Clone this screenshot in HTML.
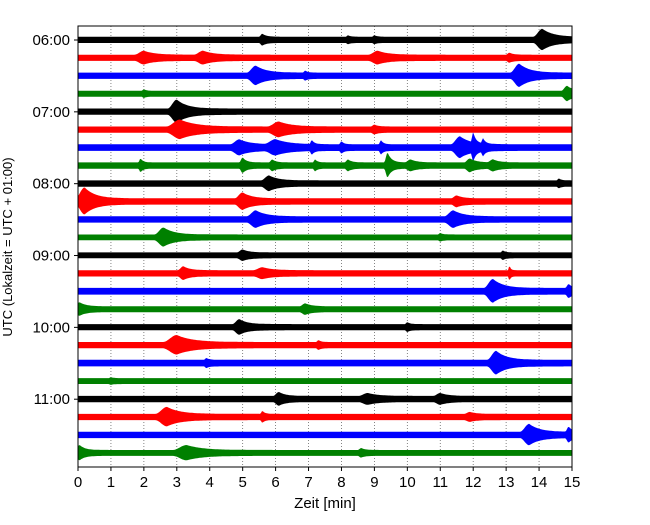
<!DOCTYPE html>
<html><head><meta charset="utf-8"><style>
body{margin:0;background:#fff;font-family:"Liberation Sans","DejaVu Sans",sans-serif}
</style></head><body>
<svg id="c" width="650" height="520" xmlns="http://www.w3.org/2000/svg"></svg>
<script>
const hourLabels=["06:00","07:00","08:00","09:00","10:00","11:00"];
const xTicks=[0,1,2,3,4,5,6,7,8,9,10,11,12,13,14,15];
const traceColors=["#000000","#ff0000","#0000ff","#008000"];
const baseAmp=[3.3,3.3,3.3,3.1,3.3,3.3,3.5,3.3,3.3,3.3,3.3,3.1,3.1,3.3,3.5,3.1,3.3,3.3,3.5,3.1,3.3,3.3,3.3,3.1];
// events per trace: [minute, amplitude, duration]
const traceEvents=[
[[5.6,3,0.3],[14.1,8,0.8],[8.2,1.5,0.2],[9.0,1.5,0.2]],
[[2.0,4,0.8],[3.8,4,0.8],[9.1,4,0.8],[13.1,2,0.3]],
[[5.4,7,0.8],[13.4,9,0.8],[6.9,2,0.2]],
[[14.85,5,0.5],[2.0,1.5,0.2]],
[[3.0,9,0.8]],
[[3.1,7,1.2],[6.1,5,1.0],[9.0,2,0.3]],
[[4.9,5,0.8],[6.0,5,1.0],[7.1,4,0.2],[8.0,3,0.2],[9.2,4,0.2],[11.6,8,0.8],[12.0,10,0.2],[12.3,5,0.2]],
[[1.9,4,0.2],[5.0,5,0.3],[5.9,3,0.3],[7.2,3,0.2],[8.2,3,0.3],[9.4,10,0.3],[10.1,3,0.5],[11.9,4,0.5],[12.6,3,0.5]],
[[5.8,5,0.7],[14.6,2,0.2]],
[[0.2,11,0.8],[5.0,6,0.7],[11.5,3,0.5]],
[[5.4,6,0.8],[11.4,6,0.8]],
[[2.6,7,0.8],[11.0,1.5,0.2]],
[[5.0,3,0.5],[12.9,2,0.2]],
[[3.2,4,0.5],[5.6,3,0.8],[13.1,5,0.1]],
[[12.6,9,0.8],[14.9,4,0.3]],
[[0.05,4,0.5],[6.9,3,0.5]],
[[4.9,5,0.6],[10.0,2,0.2]],
[[3.0,7,1.2],[7.3,2,0.2]],
[[12.7,9,0.8],[3.9,2,0.2]],
[[1.0,1,0.2]],
[[6.1,4,0.5],[8.8,3,0.8],[11.0,3,0.6]],
[[2.7,7,1.0],[5.6,3,0.2],[11.9,2,0.5]],
[[13.7,8,0.8],[14.9,5,0.3]],
[[0.05,5,0.4],[3.3,5,1.2],[8.6,2,0.3]]
];
const NS="http://www.w3.org/2000/svg";
const svg=document.getElementById('c');
const L=78,R=572,T=26,B=467;
const x=m=>L+(m-0)/(15-0)*(R-L);
const y=i=>40+i*17.96;
function mk(t,a,p){const e=document.createElementNS(NS,t);for(const k in a)e.setAttribute(k,a[k]);(p||svg).appendChild(e);return e;}
const defs=mk('defs',{});const cp=mk('clipPath',{id:'clip'},defs);mk('rect',{x:L,y:T,width:R-L,height:B-T},cp);
const grid=mk('g',{});


xTicks.forEach(v=>{mk('line',{x1:x(v),x2:x(v),y1:T,y2:B,stroke:'#000','stroke-width':0.8,'stroke-dasharray':'1,2',opacity:0.6},grid);});
const tg=mk('g',{'clip-path':'url(#clip)'});
function shape(u){
  if(u<-0.35) return 0;
  if(u<0){const r=1+u/0.35;return r*r*(3-2*r);}
  return Math.exp(-2.2*u)*(1-0.3*Math.min(1,u));
}
traceEvents.forEach((evs,i)=>{
  const top=[],bot=[];
  for(let px=L;px<=R;px+=1){
    const m=(px-L)/(R-L)*15;
    let a=baseAmp[i];
    evs.forEach(e=>{a+=e[1]*shape((m-e[0])/e[2]);});
    top.push(px+','+(y(i)-a).toFixed(1));bot.unshift(px+','+(y(i)+a*0.9).toFixed(1));
  }
  const p=mk('polygon',{points:top.concat(bot).join(' '),fill:traceColors[i%4]},tg);
  
  
});
mk('rect',{x:L,y:T,width:R-L,height:B-T,fill:'none',stroke:'#000','stroke-width':1});
xTicks.forEach(v=>{
  mk('line',{x1:x(v),x2:x(v),y1:B,y2:B+4,stroke:'#000'});
  const t=mk('text',{x:x(v),y:B+20,'font-size':15,'text-anchor':'middle'});t.textContent=v;
  
  
});
hourLabels.forEach((h,k)=>{
  const yy=y(k*4);
  mk('line',{x1:L-4,x2:L,y1:yy,y2:yy,stroke:'#000'});
  const t=mk('text',{x:L-8,y:yy+5,'font-size':15,'text-anchor':'end'});t.textContent=h;
  
  
});
const xl=mk('text',{x:325,y:508,'font-size':15,'text-anchor':'middle','xml:space':'preserve'});xl.textContent='Zeit  [min]';


const yl=mk('text',{x:0,y:0,'font-size':13,'text-anchor':'middle',transform:'translate(12,247) rotate(-90)'});yl.textContent='UTC (Lokalzeit = UTC + 01:00)';


</script>
</body></html>
